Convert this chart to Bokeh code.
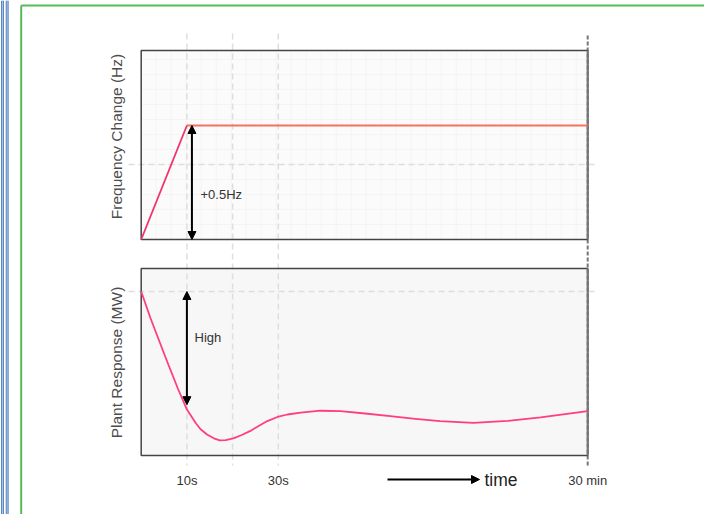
from math import pi
from bokeh.plotting import figure
from bokeh.models import Range1d, Arrow, NormalHead, Span
from bokeh.core.properties import value
from bokeh.embed import file_html
from bokeh.resources import INLINE

# ---------------- data ----------------
tick_seconds = [10, 20, 30, 97.7]
tick_labels = ["10s", "", "30s", "30 min"]
T_END = 97.7

freq_t = [0, 10, 97.7]
freq_hz = [0.0, 0.5, 0.5]

resp_t = [0, 2, 4.2, 6, 8, 10, 12, 13, 14.4, 15.9, 17.2, 18.5, 20.3, 22, 23.9, 25.7,
          27.6, 29.8, 32, 34.9, 39.2, 43.6, 49, 54.5, 60, 65.4, 72.7, 80.2, 87.4, 97.7]
resp_mw = [1.0, 0.84, 0.68, 0.55, 0.41, 0.28, 0.195, 0.16, 0.128, 0.105, 0.092, 0.094, 0.106, 0.125,
           0.15, 0.18, 0.21, 0.235, 0.25, 0.262, 0.273, 0.27, 0.256, 0.24, 0.223, 0.209, 0.199,
           0.211, 0.232, 0.270]

FREQ_TOP, FREQ_GRID = 0.829, 0.329
MW_TOP, MW_GRID = 1.14, 1.0
freq_arrow = (11.1, 0.5, 0.0)   # t, from, to
resp_arrow = (10.0, 1.0, 0.31)

# ---------------- geometry (page pixel anchors) ----------------
W, H = 704, 514
X0_PX, PX_PER_S = 140.7, 4.57
F0_PY, PX_PER_HZ = 239.0, 228.0
M0_PY, PX_PER_MW = 455.0, 164.0


def t_of(px):
    return (px - X0_PX) / PX_PER_S


def f_of(py):
    return (F0_PY - py) / PX_PER_HZ


def m_of(py):
    return (M0_PY - py) / PX_PER_MW


p = figure(width=W, height=H, output_backend="svg", toolbar_location=None,
           x_range=Range1d(t_of(0), t_of(W)),
           y_range=Range1d(m_of(H), m_of(0)),
           min_border=0, background_fill_color="white", border_fill_color="white",
           outline_line_color=None)
p.axis.visible = False
p.grid.visible = False
p.extra_y_ranges = {"freq": Range1d(f_of(H), f_of(0))}

FONT = value("Liberation Sans")

# panel backgrounds
p.quad(left=0, right=T_END, bottom=0, top=FREQ_TOP, y_range_name="freq",
       fill_color="#fbfbfb", line_color=None)
p.quad(left=0, right=T_END, bottom=0, top=MW_TOP,
       fill_color="#f7f7f7", line_color=None)

# faint minor grid in top panel
minor_x = [t_of(140.7 + 15 * i) for i in range(1, 30)]
p.segment(x0=minor_x, x1=minor_x, y0=0, y1=FREQ_TOP, y_range_name="freq",
          line_color="#f4f4f4", line_width=1)
minor_y = [f_of(239 - 15 * i) for i in range(1, 13)]
p.segment(x0=0, x1=T_END, y0=minor_y, y1=minor_y, y_range_name="freq",
          line_color="#f4f4f4", line_width=1)

# vertical dashed guide lines
vx = tick_seconds[:3]
p.segment(x0=vx, x1=vx, y0=f_of(33), y1=f_of(465), y_range_name="freq",
          line_color="#dedede", line_width=1.5, line_dash="6 4")
p.segment(x0=[T_END], x1=[T_END], y0=f_of(35), y1=f_of(465), y_range_name="freq",
          line_color="#777777", line_width=2, line_dash="4 2")

# horizontal dashed guide lines
p.segment(x0=[t_of(128)], x1=[t_of(597)], y0=[FREQ_GRID], y1=[FREQ_GRID], y_range_name="freq",
          line_color="#dedede", line_width=1.5, line_dash="6 4")
p.segment(x0=[t_of(128)], x1=[t_of(597)], y0=[MW_GRID], y1=[MW_GRID],
          line_color="#dedede", line_width=1.5, line_dash="6 4")

# panel borders
p.quad(left=0, right=T_END, bottom=0, top=FREQ_TOP, y_range_name="freq",
       fill_color=None, line_color="#444444", line_width=1.5)
p.quad(left=0, right=T_END, bottom=0, top=MW_TOP,
       fill_color=None, line_color="#444444", line_width=1.5)
p.segment(x0=[T_END, T_END], x1=[T_END, T_END], y0=[f_of(50), f_of(268)], y1=[f_of(239), f_of(455)],
          y_range_name="freq", line_color="#777777", line_width=2)

# data lines
p.line(freq_t[:2], freq_hz[:2], y_range_name="freq", line_color="#f0336b", line_width=1.8)
p.line(freq_t[1:], freq_hz[1:], y_range_name="freq", line_color="#f4725f", line_width=1.8)
p.line(resp_t, resp_mw, line_color="#ff3d7f", line_width=1.8, line_join="round")


# annotation arrows
def head():
    return NormalHead(size=8, fill_color="black", line_color="black")


p.add_layout(Arrow(x_start=freq_arrow[0], y_start=freq_arrow[1], x_end=freq_arrow[0], y_end=freq_arrow[2],
                   y_range_name="freq", line_width=2, line_color="black", start=head(), end=head()))
p.add_layout(Arrow(x_start=resp_arrow[0], y_start=resp_arrow[1], x_end=resp_arrow[0], y_end=resp_arrow[2],
                   line_width=2, line_color="black", start=head(), end=head()))

p.text(x=[t_of(200)], y=[f_of(194)], text=["+0.5Hz"], y_range_name="freq",
       text_font=FONT, text_font_size="13px", text_color="#333333",
       text_align="left", text_baseline="middle")
p.text(x=[t_of(194)], y=[m_of(337)], text=["High"],
       text_font=FONT, text_font_size="13px", text_color="#333333",
       text_align="left", text_baseline="middle")

# axis titles
p.text(x=[t_of(116)], y=[f_of(136)], text=["Frequency Change (Hz)"], y_range_name="freq",
       angle=pi / 2, text_font=FONT, text_font_size="15.5px", text_color="#4d4d4d",
       text_align="center", text_baseline="middle")
p.text(x=[t_of(116)], y=[m_of(362)], text=["Plant Response (MW)"],
       angle=pi / 2, text_font=FONT, text_font_size="15.5px", text_color="#4d4d4d",
       text_align="center", text_baseline="middle")

# tick labels
p.text(x=tick_seconds, y=[m_of(480)] * len(tick_seconds), text=tick_labels,
       text_font=FONT, text_font_size="13px", text_color="#333333",
       text_align="center", text_baseline="middle")

# time arrow
p.add_layout(Arrow(x_start=t_of(387), y_start=m_of(479), x_end=t_of(479), y_end=m_of(479),
                   line_width=2, line_color="black", end=head()))
p.text(x=[t_of(484)], y=[m_of(479)], text=["time"],
       text_font=FONT, text_font_size="17.5px", text_color="#222222",
       text_align="left", text_baseline="middle")

# page decorations (green frame, blue double rule)
p.segment(x0=[t_of(20.7)], x1=[t_of(20.7)], y0=[m_of(5)], y1=[m_of(H)],
          line_color="#55bb55", line_width=2)
p.segment(x0=[t_of(20.7)], x1=[t_of(W)], y0=[m_of(5)], y1=[m_of(5)],
          line_color="#55bb55", line_width=2)
for xp in (2.0, 6.7):
    p.add_layout(Span(location=t_of(xp), dimension="height", line_color="#5b86c4", line_width=3))
    p.add_layout(Span(location=t_of(xp), dimension="height", line_color="#a9c1e3", line_width=1))

open("out.html", "w").write(file_html(p, INLINE))
